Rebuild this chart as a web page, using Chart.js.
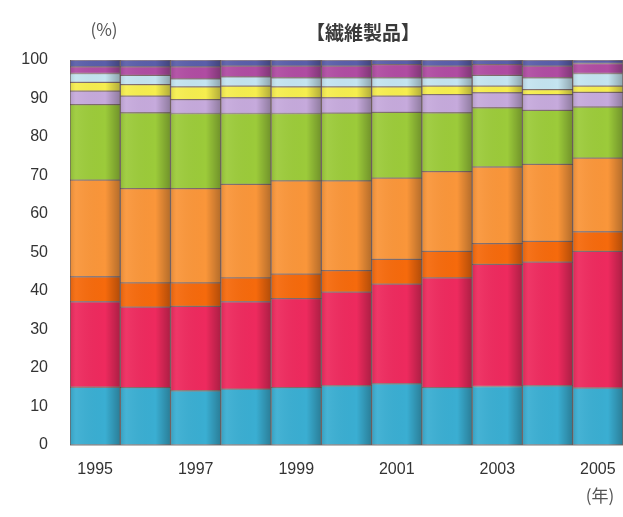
<!DOCTYPE html>
<html>
<head>
<meta charset="utf-8">
<script src="https://cdn.jsdelivr.net/npm/chart.js@4.4.0/dist/chart.umd.min.js"></script>
<style>
  html, body { margin: 0; padding: 0; background: #fff; }
  #wrap { width: 623px; height: 517px; position: relative; }
</style>
</head>
<body>
<div id="wrap"><canvas id="textileChart" width="623" height="517"></canvas></div>
<script>
// Years on the x axis
const years = ['1995', '1996', '1997', '1998', '1999', '2000', '2001', '2002', '2003', '2004', '2005'];

// Shares (%) by segment, bottom to top
const seg1 = [15.0, 14.9, 14.1, 14.5, 14.9, 15.4, 15.9, 14.9, 15.2, 15.4, 14.8];
const seg2 = [22.2, 20.9, 21.9, 22.7, 23.1, 24.3, 25.9, 28.5, 31.7, 32.1, 35.5];
const seg3 = [6.5, 6.3, 6.1, 6.2, 6.4, 5.6, 6.4, 6.9, 5.4, 5.4, 5.1];
const seg4 = [25.1, 24.5, 24.5, 24.3, 24.2, 23.3, 21.1, 20.7, 19.9, 20.0, 19.1];
const seg5 = [19.6, 19.7, 19.5, 18.4, 17.5, 17.6, 17.1, 15.3, 15.4, 14.0, 13.3];
const seg6 = [3.5, 4.3, 3.6, 4.1, 4.1, 4.0, 4.2, 4.7, 3.9, 4.1, 3.8];
const seg7 = [2.3, 3.0, 3.3, 3.0, 2.8, 2.8, 2.4, 2.2, 1.7, 1.3, 1.6];
const seg8 = [2.3, 2.4, 2.1, 2.4, 2.4, 2.4, 2.4, 2.2, 2.8, 3.1, 3.3];
const seg9 = [1.7, 2.2, 3.1, 2.8, 3.0, 3.0, 3.4, 3.0, 2.8, 3.0, 2.6];
const seg10 = [1.8, 1.8, 1.8, 1.6, 1.6, 1.6, 1.2, 1.6, 1.2, 1.6, 0.9];

const segments = [seg1, seg2, seg3, seg4, seg5, seg6, seg7, seg8, seg9, seg10];
const segColors = ['#3aaed2', '#ee2a5e', '#f66a0c', '#fa963a', '#9ccb3a',
                   '#c6aadc', '#f6ee4e', '#c4e4f0', '#b04ca2', '#5a5eaa'];

const titleText = '【繊維製品】';
const unitText = '(%)';
const yearUnitText = '(年)';

// Shade each bar a bit darker on its right side, like the original
const barShade = {
    id: 'barShade',
    afterDatasetsDraw(chart) {
        const ctx = chart.ctx;
        chart.data.datasets.forEach((ds, i) => {
            const meta = chart.getDatasetMeta(i);
            meta.data.forEach(bar => {
                const left = bar.x - bar.width / 2;
                const right = bar.x + bar.width / 2;
                const top = Math.min(bar.y, bar.base);
                const h = Math.abs(bar.base - bar.y);
                const g = ctx.createLinearGradient(left, 0, right, 0);
                g.addColorStop(0, 'rgba(0,0,0,0.10)');
                g.addColorStop(0.12, 'rgba(255,255,255,0.06)');
                g.addColorStop(0.7, 'rgba(0,0,0,0.0)');
                g.addColorStop(1, 'rgba(0,0,0,0.28)');
                ctx.save();
                ctx.fillStyle = g;
                ctx.fillRect(left, top, right - left, h);
                ctx.restore();
            });
        });
    }
};

// Title and unit labels
const labelsPlugin = {
    id: 'labels',
    afterDraw(chart) {
        const ctx = chart.ctx;
        ctx.save();
        ctx.textBaseline = 'middle';
        ctx.textAlign = 'center';
        ctx.fillStyle = '#3a3a3a';
        ctx.font = 'bold 19px "Noto Sans CJK JP"';
        ctx.fillText(titleText, 363, 33);
        ctx.font = '17px "Noto Sans CJK JP"';
        ctx.fillStyle = '#555';
        ctx.fillText(unitText, 104, 30);
        ctx.fillText(yearUnitText, 600, 496);
        ctx.restore();
    }
};

function initializeTextileChart(chartId) {
    const canvas = document.getElementById(chartId);
    if (!canvas) {
        console.error('Canvas not found:', chartId);
        return;
    }
    const ctx = canvas.getContext('2d');

    new Chart(ctx, {
        type: 'bar',
        data: {
            labels: years,
            datasets: segments.map((values, i) => ({
                label: 'seg' + (i + 1),
                data: values,
                backgroundColor: segColors[i],
                borderColor: 'rgba(70,40,40,0.55)',
                borderWidth: 1,
                borderSkipped: false,
                categoryPercentage: 1.0,
                barPercentage: 1.0
            }))
        },
        options: {
            responsive: false,
            animation: false,
            layout: { padding: { top: 60, right: 0, bottom: 0, left: 0 } },
            plugins: {
                legend: { display: false },
                tooltip: { enabled: false }
            },
            scales: {
                x: {
                    stacked: true,
                    grid: { display: false },
                    border: { display: true, color: '#bbb' },
                    ticks: {
                        autoSkip: false,
                        maxRotation: 0,
                        padding: 7,
                        color: '#333',
                        font: { family: 'Liberation Sans', size: 16 },
                        callback: function(value, index) {
                            return index % 2 === 0 ? years[index] : '';
                        }
                    },
                    afterFit: function(scale) { scale.height = 72; }
                },
                y: {
                    stacked: true,
                    min: 0,
                    max: 100,
                    grid: { display: false, drawTicks: false },
                    border: { display: true, color: '#bbb' },
                    ticks: {
                        stepSize: 10,
                        padding: 22,
                        color: '#333',
                        font: { family: 'Liberation Sans', size: 16 }
                    },
                    afterFit: function(scale) { scale.width = 70; }
                }
            }
        },
        plugins: [barShade, labelsPlugin]
    });
}

initializeTextileChart('textileChart');
</script>
</body>
</html>
